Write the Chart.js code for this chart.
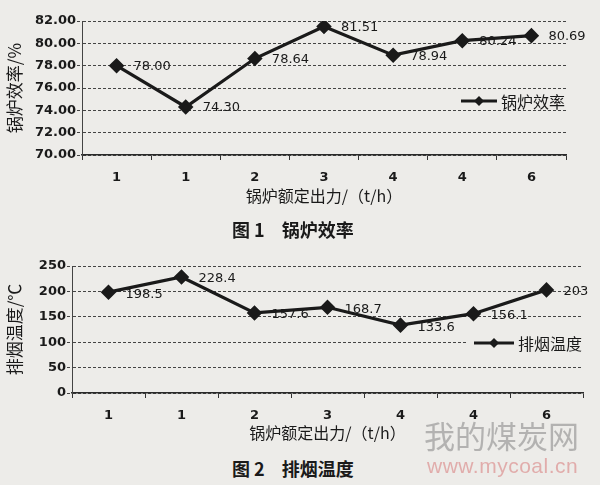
<!DOCTYPE html>
<html>
<head>
<meta charset="utf-8">
<script src="https://cdn.jsdelivr.net/npm/chart.js@4.4.1/dist/chart.umd.min.js"></script>
<style>
  html, body { margin:0; padding:0; }
  body { width:600px; height:485px; background:#edece9; position:relative; overflow:hidden; }
  .cv { position:absolute; left:0; width:600px; height:210px; }
  #c1 { top:0; }
  #c2 { top:240px; }
  .cap { position:absolute; left:232px; font-family:"Noto Sans CJK SC", sans-serif; font-weight:bold; font-size:18px; color:#1a1a1a; line-height:22px; white-space:nowrap; }
  .cap span.b { margin-left:17px; }
  #cap1 { top:218px; }
  #cap2 { top:457px; }
  .wm1 { position:absolute; left:424px; top:416px; font-family:"Noto Sans CJK SC", sans-serif; font-size:31px; color:rgba(140,140,140,0.6); line-height:38px; white-space:nowrap; }
  .wm2 { position:absolute; left:427px; top:454px; font-family:"Liberation Sans", sans-serif; font-size:21px; color:rgba(215,120,120,0.55); line-height:24px; white-space:nowrap; letter-spacing:0.5px; }
</style>
</head>
<body>
<canvas id="c1" class="cv" width="600" height="210"></canvas>
<canvas id="c2" class="cv" width="600" height="210"></canvas>
<div id="cap1" class="cap">图 1<span class="b">锅炉效率</span></div>
<div id="cap2" class="cap">图 2<span class="b">排烟温度</span></div>
<div class="wm1">我的煤炭网</div>
<div class="wm2">www.mycoal.cn</div>
<script>
// ---- data ----
const categories = ['1', '1', '2', '3', '4', '4', '6'];
const boilerEfficiency = [78.00, 74.30, 78.64, 81.51, 78.94, 80.24, 80.69];
const flueGasTemp = [198.5, 228.4, 157.6, 168.7, 133.6, 156.1, 203];
const efficiencyLabels = ['78.00', '74.30', '78.64', '81.51', '78.94', '80.24', '80.69'];
const tempLabels = ['198.5', '228.4', '157.6', '168.7', '133.6', '156.1', '203'];
const xTitle = '锅炉额定出力/（t/h）';
const effTitle = '锅炉效率/%';
const tempTitle = '排烟温度/℃';
const effName = '锅炉效率';
const tempName = '排烟温度';

const BG = '#edece9';
const INK = '#1a1a1a';

const valueLabels = {
  id: 'valueLabels',
  afterDatasetsDraw(chart, args, opts) {
    const ctx = chart.ctx;
    const meta = chart.getDatasetMeta(0);
    ctx.save();
    ctx.font = '13px "DejaVu Sans", sans-serif';
    ctx.fillStyle = INK;
    ctx.textAlign = 'left';
    ctx.textBaseline = 'middle';
    meta.data.forEach((pt, i) => {
      ctx.fillText(opts.labels[i], pt.x + 17, pt.y + (opts.dy || 0));
    });
    ctx.restore();
  }
};

const insideLegend = {
  id: 'insideLegend',
  afterDraw(chart, args, opts) {
    const ctx = chart.ctx;
    const ca = chart.chartArea;
    const ds = chart.data.datasets[0];
    ctx.save();
    ctx.font = '16px "Noto Sans CJK SC", sans-serif';
    const tw = ctx.measureText(ds.label).width;
    const right = ca.right - 1;
    const y = ca.top + opts.y;
    const lineW = opts.lineW;
    const x0 = right - tw - 4 - lineW;
    ctx.fillStyle = BG;
    ctx.fillRect(x0 - 8, y - 8, right - x0 + 9, 16);
    ctx.strokeStyle = INK;
    ctx.lineWidth = 3;
    ctx.beginPath();
    ctx.moveTo(x0, y);
    ctx.lineTo(x0 + lineW, y);
    ctx.stroke();
    const mx = x0 + lineW / 2;
    ctx.fillStyle = INK;
    ctx.beginPath();
    ctx.moveTo(mx, y - 5); ctx.lineTo(mx + 5, y); ctx.lineTo(mx, y + 5); ctx.lineTo(mx - 5, y);
    ctx.closePath(); ctx.fill();
    ctx.textAlign = 'left';
    ctx.textBaseline = 'middle';
    ctx.fillStyle = INK;
    ctx.fillText(ds.label, x0 + lineW + 4, y + 1);
    ctx.restore();
  }
};

function makeChart(id, cfg) {
  return new Chart(document.getElementById(id), {
    type: 'line',
    data: {
      labels: categories,
      datasets: [{
        label: cfg.name,
        data: cfg.data,
        borderColor: INK,
        backgroundColor: INK,
        borderWidth: 3.2,
        pointStyle: 'rectRot',
        pointRadius: 5.5,
        pointHoverRadius: 5.5,
        tension: 0,
        fill: false
      }]
    },
    plugins: [valueLabels, insideLegend],
    options: {
      responsive: false,
      animation: false,
      events: [],
      layout: { padding: cfg.padding },
      plugins: {
        legend: { display: false },
        tooltip: { enabled: false },
        valueLabels: { labels: cfg.labels, dy: cfg.dy },
        insideLegend: { y: cfg.legendY, lineW: cfg.legendLineW }
      },
      scales: {
        x: {
          offset: true,
          afterFit: s => { s.height = cfg.xHeight; },
          grid: { offset: true, drawOnChartArea: false, drawTicks: true, tickLength: 5, color: '#333', tickColor: '#333' },
          border: { display: true, color: '#2a2a2a', width: 1.5 },
          ticks: { padding: 10, color: INK, font: { family: '"DejaVu Sans", sans-serif', size: 13, weight: 'bold' } },
          title: { display: true, text: xTitle, color: INK, padding: { top: 2, bottom: 4 },
                   font: { family: '"Noto Sans CJK SC", sans-serif', size: 16 } }
        },
        y: {
          min: cfg.min, max: cfg.max,
          afterFit: s => { s.width = cfg.yWidth; },
          grid: { color: '#444', lineWidth: 1, tickLength: 5, tickColor: '#444', borderDash: [3, 2], tickBorderDash: [3, 2] },
          border: { display: true, color: '#444', width: 1, dash: [3, 2] },
          ticks: { stepSize: cfg.step, padding: 1, color: INK,
                   font: { family: '"DejaVu Sans", sans-serif', size: 13, weight: 'bold' },
                   callback: cfg.fmt },
          title: { display: true, text: cfg.yTitle, color: INK, padding: { top: 4, bottom: 4 },
                   font: { family: '"Noto Sans CJK SC", sans-serif', size: 17 } }
        }
      }
    }
  });
}

makeChart('c1', {
  name: effName, data: boilerEfficiency, labels: efficiencyLabels, dy: 1,
  min: 70, max: 82, step: 2, fmt: v => Number(v).toFixed(2),
  yTitle: effTitle, yWidth: 82, xHeight: 55,
  padding: { top: 21, right: 34, bottom: 0, left: 0 },
  legendY: 80, legendLineW: 36
});

makeChart('c2', {
  name: tempName, data: flueGasTemp, labels: tempLabels, dy: 2,
  min: 0, max: 250, step: 50, fmt: v => String(v),
  yTitle: tempTitle, yWidth: 72, xHeight: 54,
  padding: { top: 26, right: 17, bottom: 3, left: 0 },
  legendY: 77, legendLineW: 40
});
</script>
</body>
</html>
